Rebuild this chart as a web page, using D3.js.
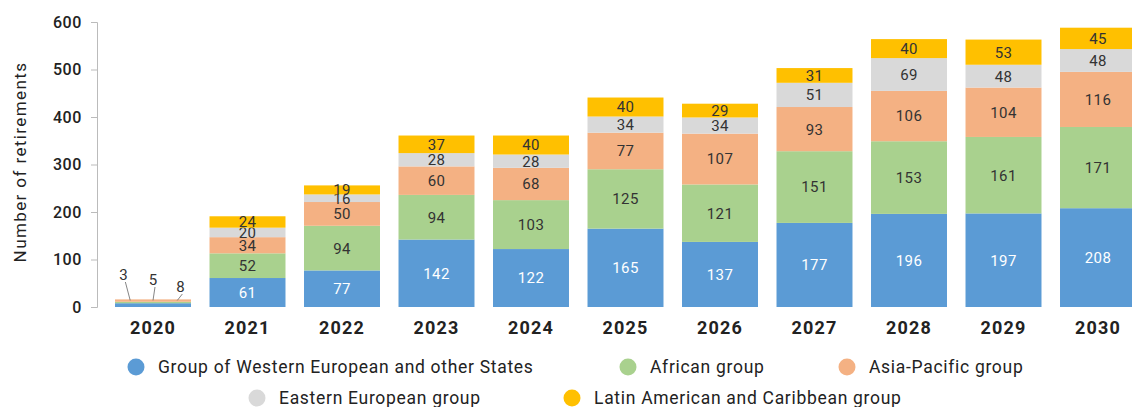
<!DOCTYPE html>
<html><head><meta charset="utf-8">
<script src="https://cdn.jsdelivr.net/npm/d3@7"></script>
<style>body{margin:0;background:#fff;font-family:Roboto,"Noto Sans",sans-serif;}</style>
</head><body><svg id="c" width="1132" height="407"></svg>
<script>
const years = ["2020","2021","2022","2023","2024","2025","2026","2027","2028","2029","2030"];
const groups = ["Group of Western European and other States","African group","Asia-Pacific group","Eastern European group","Latin American and Caribbean group"];
const western = [8,61,77,142,122,165,137,177,196,197,208];
const african = [3,52,94,94,103,125,121,151,153,161,171];
const asiaPacific = [5,34,50,60,68,77,107,93,106,104,116];
const eastern = [0,20,16,28,28,34,34,51,69,48,48];
const latin = [0,24,19,37,40,40,29,31,40,53,45];
const yTicks = [0,100,200,300,400,500,600];
const colors = ["#5b9bd5","#a9d18e","#f4b183","#d9d9d9","#ffc000"];

const svg = d3.select("#c");
const series = [western, african, asiaPacific, eastern, latin];
const rows = years.map((y,i)=>{const o={year:y}; groups.forEach((g,k)=>o[g]=series[k][i]); return o;});
const stack = d3.stack().keys(groups)(rows);

const x = d3.scaleBand().domain(years).range([105.75,1145.25]).paddingInner(0.196).paddingOuter(0.098);
const y = d3.scaleLinear().domain([0,600]).range([307,22]);

// y axis
const ya = svg.append("g").attr("transform","translate(97,0)")
  .call(d3.axisLeft(y).tickValues(yTicks).tickSize(6).tickPadding(9));
ya.select(".domain").attr("stroke","#bbb");
ya.selectAll(".tick line").attr("stroke","#bbb");
ya.selectAll("text").attr("font-size",16).attr("letter-spacing",0.6).attr("font-family","Roboto").attr("font-weight",500).attr("fill","#222");

svg.append("text").attr("transform","translate(26,162) rotate(-90)").attr("text-anchor","middle")
  .attr("font-size",17).attr("letter-spacing",1.4).attr("fill","#222").text("Number of retirements");

// x axis labels
const xa = svg.append("g").attr("transform","translate(0,312)").call(d3.axisBottom(x).tickSize(0).tickPadding(9));
xa.select(".domain").remove();
xa.selectAll("text").attr("font-size",18).attr("letter-spacing",1.2).attr("font-weight","bold").attr("fill","#222").attr("font-family","Roboto");

// bars
stack.forEach((s,k)=>{
  const g = svg.append("g");
  g.selectAll("rect").data(s).join("rect")
    .attr("x",d=>x(d.data.year)).attr("width",x.bandwidth())
    .attr("y",d=>y(d[1])).attr("height",d=>y(d[0])-y(d[1]))
    .attr("fill",colors[k]);
  g.selectAll("text").data(s.filter(d=>d.data.year!=="2020")).join("text")
    .attr("x",d=>x(d.data.year)+x.bandwidth()/2)
    .attr("y",d=>(y(d[0])+y(d[1]))/2).attr("dy","0.36em")
    .attr("text-anchor","middle").attr("font-size",15).attr("letter-spacing",0.4)
    .attr("fill",k===0?"#fff":"#333").text(d=>d.data[groups[k]]);
});

// 2020 callout labels
const x20 = x("2020"), bw = x.bandwidth();
const topY = y(western[0]+african[0]+asiaPacific[0]);
const call20 = [{v:african[0], lx:x20+bw*0.2, tx:x20+bw*0.11, ty:280},
                {v:asiaPacific[0], lx:x20+bw*0.5, tx:x20+bw*0.5, ty:285},
                {v:western[0], lx:x20+bw*0.82, tx:x20+bw*0.86, ty:292}];
call20.forEach(c=>{
  svg.append("path").attr("d",`M${c.tx+2},${c.ty+2}L${c.lx},${topY+1}`).attr("stroke","#666").attr("stroke-width",0.8).attr("fill","none");
  svg.append("text").attr("x",c.tx).attr("y",c.ty).attr("text-anchor","middle").attr("font-size",15).attr("fill","#333").text(c.v);
});

// legend
const legPos = [[136,367],[628,367],[847,367],[257,398],[572,398]];
groups.forEach((g,k)=>{
  svg.append("circle").attr("cx",legPos[k][0]).attr("cy",legPos[k][1]).attr("r",8.5).attr("fill",colors[k]);
  svg.append("text").attr("x",legPos[k][0]+22).attr("y",legPos[k][1]).attr("dy","0.35em")
    .attr("font-size",17.5).attr("letter-spacing",0.7).attr("fill","#222").text(g);
});
</script></body></html>
